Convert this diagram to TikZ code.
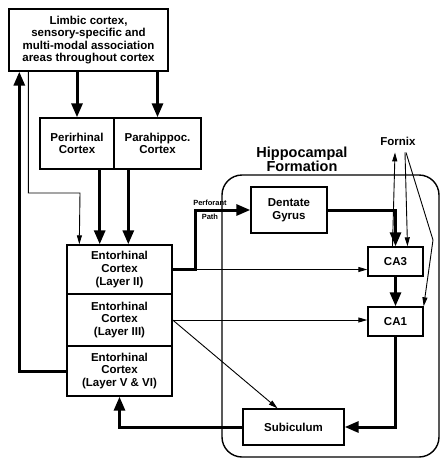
\documentclass[tikz,border=0pt]{standalone}
\usepackage{fontspec}
\setmainfont{Liberation Sans}
\usetikzlibrary{arrows.meta}

\begin{document}
\begin{tikzpicture}[x=1pt, y=-1pt,
    box/.style={draw, line width=1.4pt, inner sep=0pt, align=center,
        font=\fontsize{11.5}{12.6}\selectfont\bfseries},
    thickarrow/.style={line width=3pt, -{Triangle[length=14pt,width=11pt]}},
    thinarrow/.style={line width=0.9pt, -{Triangle[length=9pt,width=5pt]}},
    pathlabel/.style={font=\fontsize{7.5}{8}\selectfont\bfseries, inner sep=2.5pt}]
    \useasboundingbox (0,0) rectangle (441,459);

    % Hippocampal formation outline
    \draw[line width=1.4pt, rounded corners=20pt] (222,175) rectangle (439,457);
    \node[font=\fontsize{14.5}{14}\selectfont\bfseries, align=center] (hftitle) at (302,159) {Hippocampal\\Formation};

    % Cortical boxes
    \node[box, minimum width=159pt, minimum height=62pt] (limbic) at (88.5,40)
        {Limbic cortex,\\sensory-specific and\\multi-modal association\\areas throughout cortex};
    \node[box, minimum width=74pt, minimum height=51pt] (peri) at (77,143.5) {Perirhinal\\Cortex};
    \node[box, minimum width=87pt, minimum height=51pt] (para) at (157.5,143.5) {Parahippoc.\\Cortex};

    % Entorhinal layers
    \node[box, minimum width=105pt, minimum height=49pt] (ec2) at (119.5,269.5) {Entorhinal\\Cortex\\(Layer II)};
    \node[box, minimum width=105pt, minimum height=52pt] (ec3) at (119.5,320) {Entorhinal\\Cortex\\(Layer III)};
    \node[box, minimum width=105pt, minimum height=50pt] (ec56) at (119.5,371) {Entorhinal\\Cortex\\(Layer V \& VI)};

    % Hippocampal boxes
    \node[box, minimum width=76pt, minimum height=46pt] (dg) at (289,210) {Dentate\\Gyrus};
    \node[box, minimum width=55pt, minimum height=29pt] (ca3) at (395.5,261.5) {CA3};
    \node[box, minimum width=55pt, minimum height=29pt] (ca1) at (395.5,321.5) {CA1};
    \node[box, minimum width=101pt, minimum height=36pt] (sub) at (293.5,427) {Subiculum};
    \node[font=\fontsize{11.5}{12}\selectfont\bfseries, inner sep=0pt] (fornix) at (398,141) {Fornix};

    \coordinate (kink) at (80,193);
    \coordinate (pp) at (195,210);
    \coordinate (fxbend) at (433,240);

    % Cortical inputs
    \draw[thickarrow] (peri.north |- limbic.south) -- (peri.north);
    \draw[thickarrow] (para.north |- limbic.south) -- (para.north);
    \draw[thickarrow] ([xshift=-15pt]peri.south east) -- ([xshift=-15pt]peri.south east |- ec2.north);
    \draw[thickarrow] ([xshift=15pt]para.south west) -- ([xshift=15pt]para.south west |- ec2.north);
    \draw[thinarrow] ([xshift=20pt]limbic.south west) |- (kink) -- ([xshift=13pt]ec2.north west);
    \draw[thickarrow] (ec56.west) -| ([xshift=11pt]limbic.south west);

    % Perforant path
    \draw[thickarrow] (ec2.east) -| (pp) -- node[pathlabel, above, pos=0.27] {Perforant}
        node[pathlabel, below, pos=0.27] {Path} (dg.west);
    \draw[thinarrow] (ec2.east) -- (ec2.east -| ca3.west);
    \draw[thinarrow] (ec3.east) -- (ec3.east -| ca1.west);
    \draw[thinarrow] (ec3.east) -- ([xshift=-16pt]sub.north);

    % Trisynaptic loop
    \draw[thickarrow] (dg.east) -| (ca3.north);
    \draw[thickarrow] (ca3.south) -- (ca1.north);
    \draw[thickarrow] (ca1.south) |- (sub.east);
    \draw[thickarrow] (sub.west) -| (ec56.south);

    % Fornix
    \draw[thinarrow] ([xshift=-3pt]ca3.north) -- ([xshift=-3pt,yshift=-7pt]fornix.south);
    \draw[thinarrow] ([xshift=7pt,yshift=-7pt]fornix.south) -- ([xshift=12pt]ca3.north);
    \draw[thinarrow] ([xshift=8pt,yshift=-7pt]fornix.south) -- (fxbend) -- (ca1.north east);
\end{tikzpicture}
\end{document}
